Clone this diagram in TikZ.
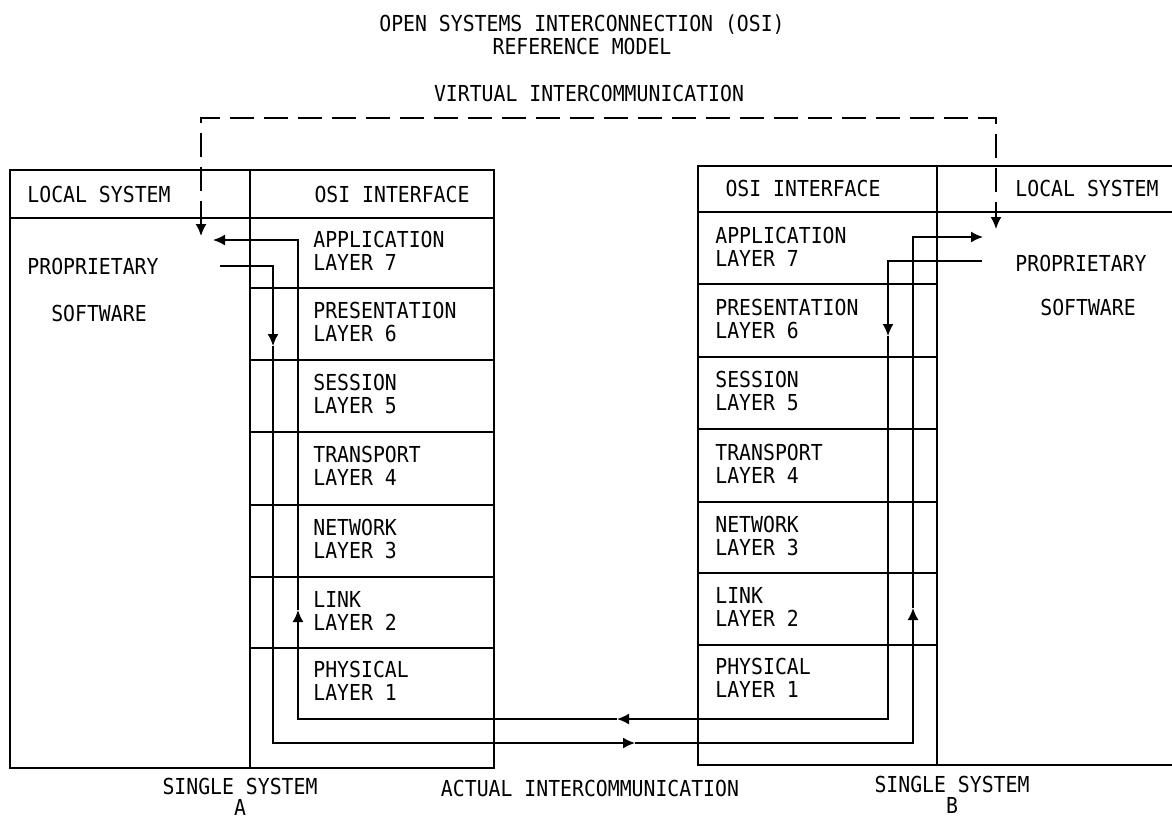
\documentclass[tikz,border=0pt]{standalone}
\usepackage{fontspec}
\setmainfont{DejaVu Sans Mono}[FakeStretch=0.9]
\usetikzlibrary{arrows.meta,positioning}

\begin{document}
\begin{tikzpicture}[
    x=0.5pt, y=-0.5pt,
    >={Latex[length=6pt,width=5.5pt]},
    box/.style={draw, line width=0.8pt},
    txt/.style={font=\fontsize{11}{11.8}\selectfont, inner sep=0pt, align=center},
    layertxt/.style={txt, align=left, anchor=west},
    flow/.style={->, line width=0.8pt},
    virt/.style={<->, line width=0.8pt, dash pattern=on 12pt off 5pt},
]
\useasboundingbox (0,0) rectangle (1172,820);

% Titles
\node[txt] (title) at (582,35) {OPEN SYSTEMS INTERCONNECTION (OSI)\\REFERENCE MODEL};
\node[txt] (virtual) at (589,93) {VIRTUAL INTERCOMMUNICATION};

% System A
\draw[box] (10,170) rectangle (250,768);
\draw[box] (250,170) rectangle (494,768);
\draw[box] (10,218) -- (494,218);
\draw[box] (250,288) -- (494,288) (250,360) -- (494,360) (250,432) -- (494,432)
    (250,505) -- (494,505) (250,577) -- (494,577) (250,648) -- (494,648);
\node[txt] (locA) at (99,194) {LOCAL SYSTEM};
\node[txt] (osiA) at (392,194) {OSI INTERFACE};
\node[txt] (propA) at (93,266) {PROPRIETARY};
\node[txt] (softA) at (99,313) {SOFTWARE};
\node[layertxt] (a7) at (313,251) {APPLICATION\\LAYER 7};
\node[layertxt] (a6) at (313,322) {PRESENTATION\\LAYER 6};
\node[layertxt] (a5) at (313,394) {SESSION\\LAYER 5};
\node[layertxt] (a4) at (313,466) {TRANSPORT\\LAYER 4};
\node[layertxt] (a3) at (313,539) {NETWORK\\LAYER 3};
\node[layertxt] (a2) at (313,611) {LINK\\LAYER 2};
\node[layertxt] (a1) at (313,681) {PHYSICAL\\LAYER 1};

% System B
\draw[box] (698,166) rectangle (937,765);
\draw[box] (1172,166) -- (937,166) -- (937,765) -- (1172,765);
\draw[box] (698,212) -- (1172,212);
\draw[box] (698,284) -- (937,284) (698,357) -- (937,357) (698,429) -- (937,429)
    (698,502) -- (937,502) (698,573) -- (937,573) (698,645) -- (937,645);
\node[txt] (osiB) at (803,188) {OSI INTERFACE};
\node[txt] (locB) at (1087,188) {LOCAL SYSTEM};
\node[txt] (propB) at (1081,263) {PROPRIETARY};
\node[txt] (softB) at (1088,307) {SOFTWARE};
\node[layertxt] (b7) at (715,247) {APPLICATION\\LAYER 7};
\node[layertxt] (b6) at (715,319) {PRESENTATION\\LAYER 6};
\node[layertxt] (b5) at (715,391) {SESSION\\LAYER 5};
\node[layertxt] (b4) at (715,464) {TRANSPORT\\LAYER 4};
\node[layertxt] (b3) at (715,536) {NETWORK\\LAYER 3};
\node[layertxt] (b2) at (715,607) {LINK\\LAYER 2};
\node[layertxt] (b1) at (715,678) {PHYSICAL\\LAYER 1};

% Bottom labels
\node[txt] (sysA) at (240,797) {SINGLE SYSTEM\\[-1.5pt]A};
\node[txt] (actual) at (590,788) {ACTUAL INTERCOMMUNICATION};
\node[txt] (sysB) at (952,795) {SINGLE SYSTEM\\[-1.5pt]B};

% Arrow points
\coordinate (vA) at (201,236);
\coordinate (vtop) at (600,118);
\coordinate (vB) at (996,229);
\coordinate (outA) at (220,266);
\coordinate (downA) at (273,346);
\coordinate (rightBot) at (635,743);
\coordinate (upB) at (913,608);
\coordinate (inB) at (983,237);
\coordinate (outB) at (982,261);
\coordinate (downB) at (888,336);
\coordinate (leftBot) at (617,719);
\coordinate (upA) at (298,610);
\coordinate (inA) at (213,240);

% Virtual intercommunication
\draw[virt] (vA) |- (vtop) -| (vB);

% A to B
\draw[flow] (outA) -| (downA);
\draw[flow] (downA) |- (rightBot);
\draw[flow] (rightBot) -| (upB);
\draw[flow] (upB) |- (inB);

% B to A
\draw[flow] (outB) -| (downB);
\draw[flow] (downB) |- (leftBot);
\draw[flow] (leftBot) -| (upA);
\draw[flow] (upA) |- (inA);
\end{tikzpicture}
\end{document}
